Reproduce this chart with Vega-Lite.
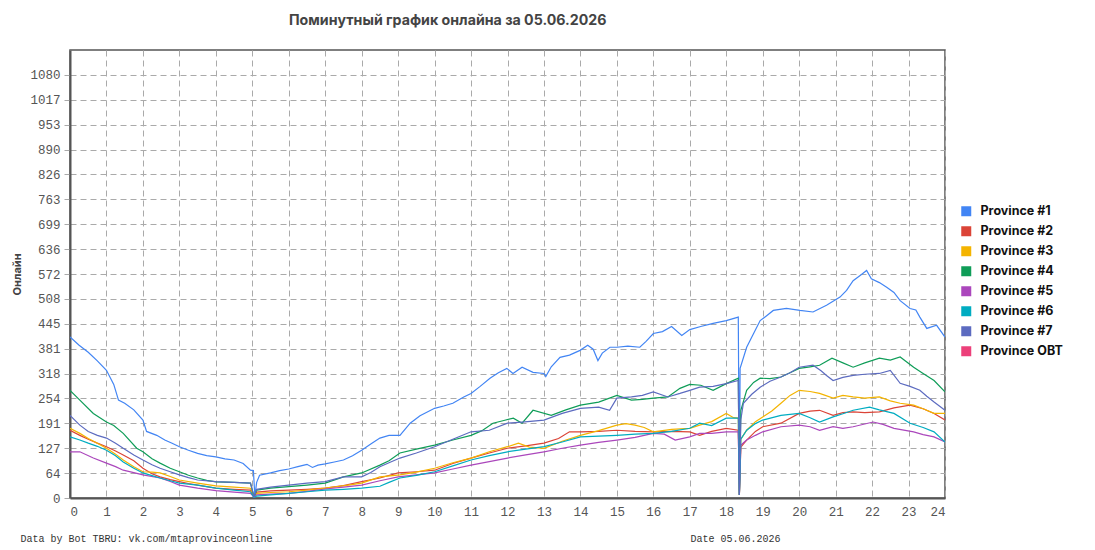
{
  "$schema": "https://vega.github.io/schema/vega-lite/v6.json",
  "autosize": "none",
  "width": 875,
  "height": 448,
  "padding": {"left": 70, "top": 50, "right": 150, "bottom": 52},
  "background": "white",
  "title": {
    "text": "Поминутный график онлайна за 05.06.2026",
    "font": "Inter",
    "fontSize": 14.2,
    "fontWeight": "bold",
    "color": "#444",
    "anchor": "start",
    "dx": 278,
    "offset": 22
  },
  "data": {
    "values": [
      {"s": "Province #1", "h": 0, "v": 411}, {"s": "Province #1", "h": 0.25, "v": 390}, {"s": "Province #1", "h": 0.5, "v": 372}, {"s": "Province #1", "h": 0.75, "v": 350},
      {"s": "Province #1", "h": 1, "v": 326}, {"s": "Province #1", "h": 1.2, "v": 290}, {"s": "Province #1", "h": 1.33, "v": 250}, {"s": "Province #1", "h": 1.5, "v": 242},
      {"s": "Province #1", "h": 1.75, "v": 225}, {"s": "Province #1", "h": 2, "v": 199}, {"s": "Province #1", "h": 2.1, "v": 170}, {"s": "Province #1", "h": 2.38, "v": 160},
      {"s": "Province #1", "h": 2.6, "v": 148}, {"s": "Province #1", "h": 2.8, "v": 140}, {"s": "Province #1", "h": 3, "v": 131}, {"s": "Province #1", "h": 3.25, "v": 122},
      {"s": "Province #1", "h": 3.5, "v": 114}, {"s": "Province #1", "h": 3.75, "v": 108}, {"s": "Province #1", "h": 4, "v": 105}, {"s": "Province #1", "h": 4.25, "v": 100},
      {"s": "Province #1", "h": 4.5, "v": 97}, {"s": "Province #1", "h": 4.75, "v": 88}, {"s": "Province #1", "h": 4.95, "v": 71}, {"s": "Province #1", "h": 5.03, "v": 70},
      {"s": "Province #1", "h": 5.07, "v": 5}, {"s": "Province #1", "h": 5.12, "v": 40}, {"s": "Province #1", "h": 5.2, "v": 58}, {"s": "Province #1", "h": 5.5, "v": 64},
      {"s": "Province #1", "h": 5.75, "v": 70}, {"s": "Province #1", "h": 6, "v": 74}, {"s": "Province #1", "h": 6.25, "v": 80}, {"s": "Province #1", "h": 6.5, "v": 86},
      {"s": "Province #1", "h": 6.65, "v": 78}, {"s": "Province #1", "h": 6.8, "v": 84}, {"s": "Province #1", "h": 7, "v": 87}, {"s": "Province #1", "h": 7.25, "v": 92},
      {"s": "Province #1", "h": 7.5, "v": 97}, {"s": "Province #1", "h": 7.75, "v": 108}, {"s": "Province #1", "h": 8, "v": 122}, {"s": "Province #1", "h": 8.25, "v": 138},
      {"s": "Province #1", "h": 8.5, "v": 153}, {"s": "Province #1", "h": 8.75, "v": 160}, {"s": "Province #1", "h": 9.05, "v": 160}, {"s": "Province #1", "h": 9.33, "v": 191},
      {"s": "Province #1", "h": 9.6, "v": 210}, {"s": "Province #1", "h": 10, "v": 229}, {"s": "Province #1", "h": 10.25, "v": 235}, {"s": "Province #1", "h": 10.5, "v": 242},
      {"s": "Province #1", "h": 10.8, "v": 258}, {"s": "Province #1", "h": 11, "v": 267}, {"s": "Province #1", "h": 11.25, "v": 285}, {"s": "Province #1", "h": 11.52, "v": 306},
      {"s": "Province #1", "h": 11.75, "v": 320}, {"s": "Province #1", "h": 11.98, "v": 331}, {"s": "Province #1", "h": 12.15, "v": 318}, {"s": "Province #1", "h": 12.4, "v": 334},
      {"s": "Province #1", "h": 12.7, "v": 321}, {"s": "Province #1", "h": 13, "v": 318}, {"s": "Province #1", "h": 13.05, "v": 310}, {"s": "Province #1", "h": 13.2, "v": 335},
      {"s": "Province #1", "h": 13.44, "v": 359}, {"s": "Province #1", "h": 13.7, "v": 365}, {"s": "Province #1", "h": 13.99, "v": 377}, {"s": "Province #1", "h": 14.2, "v": 390},
      {"s": "Province #1", "h": 14.35, "v": 380}, {"s": "Province #1", "h": 14.48, "v": 351}, {"s": "Province #1", "h": 14.6, "v": 370}, {"s": "Province #1", "h": 14.81, "v": 385},
      {"s": "Province #1", "h": 15, "v": 385}, {"s": "Province #1", "h": 15.3, "v": 388}, {"s": "Province #1", "h": 15.63, "v": 385}, {"s": "Province #1", "h": 15.8, "v": 400},
      {"s": "Province #1", "h": 16, "v": 420}, {"s": "Province #1", "h": 16.25, "v": 425}, {"s": "Province #1", "h": 16.5, "v": 438}, {"s": "Province #1", "h": 16.78, "v": 415},
      {"s": "Province #1", "h": 17, "v": 430}, {"s": "Province #1", "h": 17.3, "v": 438}, {"s": "Province #1", "h": 17.64, "v": 446}, {"s": "Province #1", "h": 18, "v": 453},
      {"s": "Province #1", "h": 18.33, "v": 462}, {"s": "Province #1", "h": 18.36, "v": 8}, {"s": "Province #1", "h": 18.38, "v": 331}, {"s": "Province #1", "h": 18.56, "v": 385},
      {"s": "Province #1", "h": 18.75, "v": 420}, {"s": "Province #1", "h": 18.93, "v": 453}, {"s": "Province #1", "h": 19.1, "v": 465}, {"s": "Province #1", "h": 19.29, "v": 479},
      {"s": "Province #1", "h": 19.65, "v": 484}, {"s": "Province #1", "h": 20.02, "v": 479}, {"s": "Province #1", "h": 20.38, "v": 475}, {"s": "Province #1", "h": 20.75, "v": 492},
      {"s": "Province #1", "h": 21.12, "v": 513}, {"s": "Province #1", "h": 21.3, "v": 530}, {"s": "Province #1", "h": 21.48, "v": 555}, {"s": "Province #1", "h": 21.7, "v": 570},
      {"s": "Province #1", "h": 21.85, "v": 581}, {"s": "Province #1", "h": 21.98, "v": 560}, {"s": "Province #1", "h": 22.2, "v": 550}, {"s": "Province #1", "h": 22.4, "v": 538},
      {"s": "Province #1", "h": 22.6, "v": 525}, {"s": "Province #1", "h": 22.77, "v": 504}, {"s": "Province #1", "h": 23.04, "v": 484}, {"s": "Province #1", "h": 23.2, "v": 480},
      {"s": "Province #1", "h": 23.31, "v": 462}, {"s": "Province #1", "h": 23.5, "v": 433}, {"s": "Province #1", "h": 23.77, "v": 441}, {"s": "Province #1", "h": 24, "v": 411},

      {"s": "Province #2", "h": 0, "v": 173}, {"s": "Province #2", "h": 0.27, "v": 160}, {"s": "Province #2", "h": 0.5, "v": 150}, {"s": "Province #2", "h": 0.75, "v": 140},
      {"s": "Province #2", "h": 1, "v": 131}, {"s": "Province #2", "h": 1.25, "v": 120}, {"s": "Province #2", "h": 1.46, "v": 110}, {"s": "Province #2", "h": 1.75, "v": 95},
      {"s": "Province #2", "h": 2, "v": 76}, {"s": "Province #2", "h": 2.25, "v": 62}, {"s": "Province #2", "h": 2.47, "v": 54}, {"s": "Province #2", "h": 2.75, "v": 47},
      {"s": "Province #2", "h": 3, "v": 42}, {"s": "Province #2", "h": 3.25, "v": 37}, {"s": "Province #2", "h": 3.5, "v": 33}, {"s": "Province #2", "h": 3.75, "v": 29},
      {"s": "Province #2", "h": 4, "v": 25}, {"s": "Province #2", "h": 4.5, "v": 22}, {"s": "Province #2", "h": 4.95, "v": 20}, {"s": "Province #2", "h": 5.05, "v": 3},
      {"s": "Province #2", "h": 5.12, "v": 15}, {"s": "Province #2", "h": 5.5, "v": 18}, {"s": "Province #2", "h": 6, "v": 20}, {"s": "Province #2", "h": 6.5, "v": 22},
      {"s": "Province #2", "h": 7, "v": 25}, {"s": "Province #2", "h": 7.5, "v": 32}, {"s": "Province #2", "h": 8, "v": 42}, {"s": "Province #2", "h": 8.5, "v": 51},
      {"s": "Province #2", "h": 9, "v": 64}, {"s": "Province #2", "h": 9.5, "v": 67}, {"s": "Province #2", "h": 10, "v": 71}, {"s": "Province #2", "h": 10.5, "v": 88},
      {"s": "Province #2", "h": 11, "v": 102}, {"s": "Province #2", "h": 11.5, "v": 115}, {"s": "Province #2", "h": 12, "v": 127}, {"s": "Province #2", "h": 12.5, "v": 133},
      {"s": "Province #2", "h": 13, "v": 140}, {"s": "Province #2", "h": 13.4, "v": 152}, {"s": "Province #2", "h": 13.7, "v": 169}, {"s": "Province #2", "h": 14, "v": 169},
      {"s": "Province #2", "h": 14.5, "v": 170}, {"s": "Province #2", "h": 15, "v": 173}, {"s": "Province #2", "h": 15.5, "v": 170}, {"s": "Province #2", "h": 16, "v": 169},
      {"s": "Province #2", "h": 16.5, "v": 170}, {"s": "Province #2", "h": 17, "v": 169}, {"s": "Province #2", "h": 17.27, "v": 160}, {"s": "Province #2", "h": 17.6, "v": 170},
      {"s": "Province #2", "h": 18, "v": 178}, {"s": "Province #2", "h": 18.33, "v": 173}, {"s": "Province #2", "h": 18.36, "v": 8}, {"s": "Province #2", "h": 18.4, "v": 130},
      {"s": "Province #2", "h": 18.56, "v": 148}, {"s": "Province #2", "h": 18.8, "v": 170}, {"s": "Province #2", "h": 19, "v": 182}, {"s": "Province #2", "h": 19.5, "v": 191},
      {"s": "Province #2", "h": 20, "v": 216}, {"s": "Province #2", "h": 20.3, "v": 222}, {"s": "Province #2", "h": 20.56, "v": 224}, {"s": "Province #2", "h": 20.93, "v": 211},
      {"s": "Province #2", "h": 21.2, "v": 218}, {"s": "Province #2", "h": 21.48, "v": 220}, {"s": "Province #2", "h": 21.8, "v": 218}, {"s": "Province #2", "h": 22.2, "v": 220},
      {"s": "Province #2", "h": 22.6, "v": 230}, {"s": "Province #2", "h": 23.04, "v": 237}, {"s": "Province #2", "h": 23.4, "v": 228}, {"s": "Province #2", "h": 23.7, "v": 216},
      {"s": "Province #2", "h": 24, "v": 199},

      {"s": "Province #3", "h": 0, "v": 178}, {"s": "Province #3", "h": 0.27, "v": 165}, {"s": "Province #3", "h": 0.5, "v": 152}, {"s": "Province #3", "h": 0.75, "v": 140},
      {"s": "Province #3", "h": 1, "v": 127}, {"s": "Province #3", "h": 1.25, "v": 112}, {"s": "Province #3", "h": 1.46, "v": 97}, {"s": "Province #3", "h": 1.75, "v": 80},
      {"s": "Province #3", "h": 2, "v": 67}, {"s": "Province #3", "h": 2.25, "v": 66}, {"s": "Province #3", "h": 2.47, "v": 64}, {"s": "Province #3", "h": 2.75, "v": 55},
      {"s": "Province #3", "h": 3, "v": 46}, {"s": "Province #3", "h": 3.5, "v": 38}, {"s": "Province #3", "h": 4, "v": 31}, {"s": "Province #3", "h": 4.5, "v": 28},
      {"s": "Province #3", "h": 4.95, "v": 25}, {"s": "Province #3", "h": 5.05, "v": 3}, {"s": "Province #3", "h": 5.12, "v": 12}, {"s": "Province #3", "h": 5.5, "v": 14},
      {"s": "Province #3", "h": 6, "v": 16}, {"s": "Province #3", "h": 6.5, "v": 20}, {"s": "Province #3", "h": 7, "v": 25}, {"s": "Province #3", "h": 7.5, "v": 31},
      {"s": "Province #3", "h": 8, "v": 38}, {"s": "Province #3", "h": 8.5, "v": 54}, {"s": "Province #3", "h": 9.05, "v": 59}, {"s": "Province #3", "h": 9.5, "v": 66},
      {"s": "Province #3", "h": 10, "v": 76}, {"s": "Province #3", "h": 10.5, "v": 90}, {"s": "Province #3", "h": 11, "v": 102}, {"s": "Province #3", "h": 11.5, "v": 118},
      {"s": "Province #3", "h": 12, "v": 131}, {"s": "Province #3", "h": 12.3, "v": 140}, {"s": "Province #3", "h": 12.6, "v": 130}, {"s": "Province #3", "h": 13, "v": 127},
      {"s": "Province #3", "h": 13.5, "v": 145}, {"s": "Province #3", "h": 14, "v": 160}, {"s": "Province #3", "h": 14.5, "v": 172}, {"s": "Province #3", "h": 15, "v": 186},
      {"s": "Province #3", "h": 15.25, "v": 190}, {"s": "Province #3", "h": 15.5, "v": 186}, {"s": "Province #3", "h": 15.75, "v": 180}, {"s": "Province #3", "h": 16, "v": 169},
      {"s": "Province #3", "h": 16.5, "v": 175}, {"s": "Province #3", "h": 17, "v": 178}, {"s": "Province #3", "h": 17.27, "v": 186}, {"s": "Province #3", "h": 17.6, "v": 195},
      {"s": "Province #3", "h": 18, "v": 216}, {"s": "Province #3", "h": 18.2, "v": 205}, {"s": "Province #3", "h": 18.33, "v": 204}, {"s": "Province #3", "h": 18.36, "v": 8},
      {"s": "Province #3", "h": 18.4, "v": 150}, {"s": "Province #3", "h": 18.56, "v": 173}, {"s": "Province #3", "h": 18.8, "v": 195}, {"s": "Province #3", "h": 19, "v": 207},
      {"s": "Province #3", "h": 19.25, "v": 222}, {"s": "Province #3", "h": 19.5, "v": 242}, {"s": "Province #3", "h": 19.75, "v": 262}, {"s": "Province #3", "h": 20, "v": 275},
      {"s": "Province #3", "h": 20.3, "v": 272}, {"s": "Province #3", "h": 20.56, "v": 267}, {"s": "Province #3", "h": 20.93, "v": 255}, {"s": "Province #3", "h": 21.2, "v": 262},
      {"s": "Province #3", "h": 21.48, "v": 258}, {"s": "Province #3", "h": 21.8, "v": 255}, {"s": "Province #3", "h": 22.2, "v": 258}, {"s": "Province #3", "h": 22.5, "v": 248},
      {"s": "Province #3", "h": 22.77, "v": 242}, {"s": "Province #3", "h": 23.14, "v": 237}, {"s": "Province #3", "h": 23.4, "v": 228}, {"s": "Province #3", "h": 23.7, "v": 216},
      {"s": "Province #3", "h": 24, "v": 216},

      {"s": "Province #4", "h": 0, "v": 275}, {"s": "Province #4", "h": 0.27, "v": 250}, {"s": "Province #4", "h": 0.64, "v": 216}, {"s": "Province #4", "h": 1, "v": 194},
      {"s": "Province #4", "h": 1.2, "v": 185}, {"s": "Province #4", "h": 1.46, "v": 165}, {"s": "Province #4", "h": 1.83, "v": 127}, {"s": "Province #4", "h": 2, "v": 118},
      {"s": "Province #4", "h": 2.25, "v": 100}, {"s": "Province #4", "h": 2.47, "v": 89}, {"s": "Province #4", "h": 2.75, "v": 76}, {"s": "Province #4", "h": 3, "v": 67},
      {"s": "Province #4", "h": 3.25, "v": 58}, {"s": "Province #4", "h": 3.5, "v": 51}, {"s": "Province #4", "h": 3.75, "v": 45}, {"s": "Province #4", "h": 4, "v": 41},
      {"s": "Province #4", "h": 4.5, "v": 40}, {"s": "Province #4", "h": 4.95, "v": 38}, {"s": "Province #4", "h": 5.05, "v": 3}, {"s": "Province #4", "h": 5.12, "v": 20},
      {"s": "Province #4", "h": 5.5, "v": 25}, {"s": "Province #4", "h": 6, "v": 29}, {"s": "Province #4", "h": 6.5, "v": 33}, {"s": "Province #4", "h": 7, "v": 38},
      {"s": "Province #4", "h": 7.5, "v": 54}, {"s": "Province #4", "h": 8, "v": 64}, {"s": "Province #4", "h": 8.5, "v": 84}, {"s": "Province #4", "h": 8.75, "v": 95},
      {"s": "Province #4", "h": 9.05, "v": 115}, {"s": "Province #4", "h": 9.5, "v": 125}, {"s": "Province #4", "h": 10, "v": 135}, {"s": "Province #4", "h": 10.5, "v": 148},
      {"s": "Province #4", "h": 11, "v": 160}, {"s": "Province #4", "h": 11.3, "v": 172}, {"s": "Province #4", "h": 11.6, "v": 191}, {"s": "Province #4", "h": 11.9, "v": 198},
      {"s": "Province #4", "h": 12.16, "v": 204}, {"s": "Province #4", "h": 12.4, "v": 191}, {"s": "Province #4", "h": 12.7, "v": 224}, {"s": "Province #4", "h": 13.2, "v": 211},
      {"s": "Province #4", "h": 13.6, "v": 225}, {"s": "Province #4", "h": 14, "v": 237}, {"s": "Province #4", "h": 14.5, "v": 245}, {"s": "Province #4", "h": 15, "v": 262},
      {"s": "Province #4", "h": 15.4, "v": 250}, {"s": "Province #4", "h": 15.7, "v": 252}, {"s": "Province #4", "h": 16, "v": 255}, {"s": "Province #4", "h": 16.4, "v": 258},
      {"s": "Province #4", "h": 16.73, "v": 280}, {"s": "Province #4", "h": 17, "v": 290}, {"s": "Province #4", "h": 17.3, "v": 288}, {"s": "Province #4", "h": 17.64, "v": 275},
      {"s": "Province #4", "h": 18, "v": 292}, {"s": "Province #4", "h": 18.33, "v": 306}, {"s": "Province #4", "h": 18.36, "v": 8}, {"s": "Province #4", "h": 18.4, "v": 224},
      {"s": "Province #4", "h": 18.56, "v": 275}, {"s": "Province #4", "h": 18.75, "v": 295}, {"s": "Province #4", "h": 18.93, "v": 306}, {"s": "Province #4", "h": 19.2, "v": 305},
      {"s": "Province #4", "h": 19.5, "v": 309}, {"s": "Province #4", "h": 19.75, "v": 320}, {"s": "Province #4", "h": 20, "v": 331}, {"s": "Province #4", "h": 20.3, "v": 335},
      {"s": "Province #4", "h": 20.56, "v": 339}, {"s": "Province #4", "h": 20.9, "v": 357}, {"s": "Province #4", "h": 21.2, "v": 345}, {"s": "Province #4", "h": 21.48, "v": 334},
      {"s": "Province #4", "h": 21.8, "v": 345}, {"s": "Province #4", "h": 22.2, "v": 357}, {"s": "Province #4", "h": 22.5, "v": 352}, {"s": "Province #4", "h": 22.77, "v": 360},
      {"s": "Province #4", "h": 23.14, "v": 334}, {"s": "Province #4", "h": 23.4, "v": 318}, {"s": "Province #4", "h": 23.7, "v": 300}, {"s": "Province #4", "h": 24, "v": 271},

      {"s": "Province #5", "h": 0, "v": 118}, {"s": "Province #5", "h": 0.27, "v": 118}, {"s": "Province #5", "h": 0.64, "v": 102}, {"s": "Province #5", "h": 1, "v": 89},
      {"s": "Province #5", "h": 1.25, "v": 80}, {"s": "Province #5", "h": 1.46, "v": 71}, {"s": "Province #5", "h": 1.75, "v": 65}, {"s": "Province #5", "h": 2, "v": 59},
      {"s": "Province #5", "h": 2.47, "v": 51}, {"s": "Province #5", "h": 2.75, "v": 42}, {"s": "Province #5", "h": 3, "v": 33}, {"s": "Province #5", "h": 3.5, "v": 25},
      {"s": "Province #5", "h": 4, "v": 19}, {"s": "Province #5", "h": 4.5, "v": 15}, {"s": "Province #5", "h": 4.95, "v": 12}, {"s": "Province #5", "h": 5.05, "v": 2},
      {"s": "Province #5", "h": 5.12, "v": 8}, {"s": "Province #5", "h": 5.5, "v": 10}, {"s": "Province #5", "h": 6, "v": 12}, {"s": "Province #5", "h": 6.5, "v": 17},
      {"s": "Province #5", "h": 7, "v": 23}, {"s": "Province #5", "h": 7.5, "v": 28}, {"s": "Province #5", "h": 8, "v": 33}, {"s": "Province #5", "h": 8.5, "v": 44},
      {"s": "Province #5", "h": 9, "v": 54}, {"s": "Province #5", "h": 9.5, "v": 59}, {"s": "Province #5", "h": 10, "v": 64}, {"s": "Province #5", "h": 10.5, "v": 74},
      {"s": "Province #5", "h": 11, "v": 84}, {"s": "Province #5", "h": 11.5, "v": 93}, {"s": "Province #5", "h": 12, "v": 102}, {"s": "Province #5", "h": 12.5, "v": 110},
      {"s": "Province #5", "h": 13, "v": 118}, {"s": "Province #5", "h": 13.5, "v": 127}, {"s": "Province #5", "h": 14, "v": 135}, {"s": "Province #5", "h": 14.5, "v": 142},
      {"s": "Province #5", "h": 15, "v": 148}, {"s": "Province #5", "h": 15.5, "v": 155}, {"s": "Province #5", "h": 16, "v": 165}, {"s": "Province #5", "h": 16.3, "v": 163},
      {"s": "Province #5", "h": 16.6, "v": 148}, {"s": "Province #5", "h": 17, "v": 156}, {"s": "Province #5", "h": 17.27, "v": 165}, {"s": "Province #5", "h": 17.6, "v": 165},
      {"s": "Province #5", "h": 18, "v": 169}, {"s": "Province #5", "h": 18.33, "v": 169}, {"s": "Province #5", "h": 18.36, "v": 8}, {"s": "Province #5", "h": 18.4, "v": 135},
      {"s": "Province #5", "h": 18.56, "v": 148}, {"s": "Province #5", "h": 18.8, "v": 160}, {"s": "Province #5", "h": 19, "v": 169}, {"s": "Province #5", "h": 19.5, "v": 182},
      {"s": "Province #5", "h": 20, "v": 186}, {"s": "Province #5", "h": 20.3, "v": 182}, {"s": "Province #5", "h": 20.56, "v": 173}, {"s": "Province #5", "h": 20.93, "v": 182},
      {"s": "Province #5", "h": 21.2, "v": 178}, {"s": "Province #5", "h": 21.48, "v": 182}, {"s": "Province #5", "h": 22.03, "v": 194}, {"s": "Province #5", "h": 22.3, "v": 188},
      {"s": "Province #5", "h": 22.6, "v": 178}, {"s": "Province #5", "h": 23.14, "v": 169}, {"s": "Province #5", "h": 23.4, "v": 162}, {"s": "Province #5", "h": 23.7, "v": 156},
      {"s": "Province #5", "h": 24, "v": 143},

      {"s": "Province #6", "h": 0, "v": 156}, {"s": "Province #6", "h": 0.27, "v": 148}, {"s": "Province #6", "h": 0.5, "v": 140}, {"s": "Province #6", "h": 0.75, "v": 132},
      {"s": "Province #6", "h": 1, "v": 122}, {"s": "Province #6", "h": 1.25, "v": 108}, {"s": "Province #6", "h": 1.46, "v": 92}, {"s": "Province #6", "h": 1.75, "v": 76},
      {"s": "Province #6", "h": 2, "v": 64}, {"s": "Province #6", "h": 2.25, "v": 57}, {"s": "Province #6", "h": 2.47, "v": 51}, {"s": "Province #6", "h": 2.75, "v": 44},
      {"s": "Province #6", "h": 3, "v": 38}, {"s": "Province #6", "h": 3.5, "v": 33}, {"s": "Province #6", "h": 4, "v": 25}, {"s": "Province #6", "h": 4.5, "v": 20},
      {"s": "Province #6", "h": 4.95, "v": 16}, {"s": "Province #6", "h": 5.05, "v": 1}, {"s": "Province #6", "h": 5.12, "v": 5}, {"s": "Province #6", "h": 5.5, "v": 8},
      {"s": "Province #6", "h": 6, "v": 12}, {"s": "Province #6", "h": 6.5, "v": 16}, {"s": "Province #6", "h": 7, "v": 20}, {"s": "Province #6", "h": 7.5, "v": 22},
      {"s": "Province #6", "h": 8, "v": 25}, {"s": "Province #6", "h": 8.5, "v": 30}, {"s": "Province #6", "h": 8.75, "v": 40}, {"s": "Province #6", "h": 9.05, "v": 51},
      {"s": "Province #6", "h": 9.5, "v": 58}, {"s": "Province #6", "h": 10, "v": 67}, {"s": "Province #6", "h": 10.5, "v": 82}, {"s": "Province #6", "h": 11, "v": 97},
      {"s": "Province #6", "h": 11.5, "v": 108}, {"s": "Province #6", "h": 12, "v": 118}, {"s": "Province #6", "h": 12.5, "v": 125}, {"s": "Province #6", "h": 13, "v": 131},
      {"s": "Province #6", "h": 13.5, "v": 143}, {"s": "Province #6", "h": 14, "v": 156}, {"s": "Province #6", "h": 14.5, "v": 158}, {"s": "Province #6", "h": 15, "v": 160},
      {"s": "Province #6", "h": 15.5, "v": 163}, {"s": "Province #6", "h": 16, "v": 165}, {"s": "Province #6", "h": 16.5, "v": 170}, {"s": "Province #6", "h": 17, "v": 178},
      {"s": "Province #6", "h": 17.27, "v": 191}, {"s": "Province #6", "h": 17.6, "v": 185}, {"s": "Province #6", "h": 18, "v": 204}, {"s": "Province #6", "h": 18.33, "v": 204},
      {"s": "Province #6", "h": 18.36, "v": 8}, {"s": "Province #6", "h": 18.4, "v": 150}, {"s": "Province #6", "h": 18.56, "v": 173}, {"s": "Province #6", "h": 18.8, "v": 190},
      {"s": "Province #6", "h": 19, "v": 199}, {"s": "Province #6", "h": 19.5, "v": 211}, {"s": "Province #6", "h": 20, "v": 216}, {"s": "Province #6", "h": 20.3, "v": 205},
      {"s": "Province #6", "h": 20.56, "v": 194}, {"s": "Province #6", "h": 20.93, "v": 207}, {"s": "Province #6", "h": 21.2, "v": 215}, {"s": "Province #6", "h": 21.48, "v": 224},
      {"s": "Province #6", "h": 21.93, "v": 232}, {"s": "Province #6", "h": 22.2, "v": 225}, {"s": "Province #6", "h": 22.6, "v": 216}, {"s": "Province #6", "h": 23.04, "v": 191},
      {"s": "Province #6", "h": 23.4, "v": 180}, {"s": "Province #6", "h": 23.7, "v": 169}, {"s": "Province #6", "h": 24, "v": 143},

      {"s": "Province #7", "h": 0, "v": 211}, {"s": "Province #7", "h": 0.27, "v": 186}, {"s": "Province #7", "h": 0.5, "v": 170}, {"s": "Province #7", "h": 0.75, "v": 160},
      {"s": "Province #7", "h": 1, "v": 153}, {"s": "Province #7", "h": 1.25, "v": 140}, {"s": "Province #7", "h": 1.46, "v": 127}, {"s": "Province #7", "h": 1.75, "v": 110},
      {"s": "Province #7", "h": 2, "v": 97}, {"s": "Province #7", "h": 2.25, "v": 85}, {"s": "Province #7", "h": 2.47, "v": 76}, {"s": "Province #7", "h": 2.75, "v": 67},
      {"s": "Province #7", "h": 3, "v": 59}, {"s": "Province #7", "h": 3.25, "v": 52}, {"s": "Province #7", "h": 3.5, "v": 46}, {"s": "Province #7", "h": 4, "v": 42},
      {"s": "Province #7", "h": 4.5, "v": 40}, {"s": "Province #7", "h": 4.95, "v": 38}, {"s": "Province #7", "h": 5.05, "v": 3}, {"s": "Province #7", "h": 5.12, "v": 22},
      {"s": "Province #7", "h": 5.5, "v": 28}, {"s": "Province #7", "h": 6, "v": 33}, {"s": "Province #7", "h": 6.5, "v": 38}, {"s": "Province #7", "h": 7, "v": 42},
      {"s": "Province #7", "h": 7.5, "v": 54}, {"s": "Province #7", "h": 8, "v": 54}, {"s": "Province #7", "h": 8.25, "v": 65}, {"s": "Province #7", "h": 8.5, "v": 80},
      {"s": "Province #7", "h": 8.75, "v": 90}, {"s": "Province #7", "h": 9.05, "v": 102}, {"s": "Province #7", "h": 9.5, "v": 115}, {"s": "Province #7", "h": 10, "v": 131},
      {"s": "Province #7", "h": 10.5, "v": 150}, {"s": "Province #7", "h": 11, "v": 169}, {"s": "Province #7", "h": 11.5, "v": 173}, {"s": "Province #7", "h": 12, "v": 191},
      {"s": "Province #7", "h": 12.4, "v": 194}, {"s": "Province #7", "h": 13, "v": 199}, {"s": "Province #7", "h": 13.5, "v": 216}, {"s": "Province #7", "h": 14, "v": 229},
      {"s": "Province #7", "h": 14.5, "v": 232}, {"s": "Province #7", "h": 14.8, "v": 224}, {"s": "Province #7", "h": 15, "v": 255}, {"s": "Province #7", "h": 15.4, "v": 258},
      {"s": "Province #7", "h": 15.7, "v": 262}, {"s": "Province #7", "h": 16, "v": 271}, {"s": "Province #7", "h": 16.4, "v": 258}, {"s": "Province #7", "h": 16.73, "v": 267},
      {"s": "Province #7", "h": 17, "v": 275}, {"s": "Province #7", "h": 17.27, "v": 283}, {"s": "Province #7", "h": 17.64, "v": 285}, {"s": "Province #7", "h": 18, "v": 292},
      {"s": "Province #7", "h": 18.33, "v": 300}, {"s": "Province #7", "h": 18.36, "v": 8}, {"s": "Province #7", "h": 18.4, "v": 200}, {"s": "Province #7", "h": 18.47, "v": 242},
      {"s": "Province #7", "h": 18.7, "v": 265}, {"s": "Province #7", "h": 18.93, "v": 283}, {"s": "Province #7", "h": 19.2, "v": 298}, {"s": "Province #7", "h": 19.5, "v": 309},
      {"s": "Province #7", "h": 19.75, "v": 320}, {"s": "Province #7", "h": 20, "v": 334}, {"s": "Province #7", "h": 20.38, "v": 339}, {"s": "Province #7", "h": 20.6, "v": 325},
      {"s": "Province #7", "h": 20.75, "v": 313}, {"s": "Province #7", "h": 20.93, "v": 300}, {"s": "Province #7", "h": 21.2, "v": 308}, {"s": "Province #7", "h": 21.48, "v": 313},
      {"s": "Province #7", "h": 21.8, "v": 316}, {"s": "Province #7", "h": 22.2, "v": 318}, {"s": "Province #7", "h": 22.5, "v": 326}, {"s": "Province #7", "h": 22.77, "v": 293},
      {"s": "Province #7", "h": 23.04, "v": 285}, {"s": "Province #7", "h": 23.31, "v": 275}, {"s": "Province #7", "h": 23.5, "v": 260}, {"s": "Province #7", "h": 23.7, "v": 245},
      {"s": "Province #7", "h": 24, "v": 224}
    ]
  },
  "layer": [
    {
      "mark": {"type": "line", "strokeWidth": 1.2, "clip": true},
      "encoding": {
        "x": {
          "field": "h",
          "type": "quantitative",
          "scale": {"domain": [0, 24], "nice": false},
          "axis": {
            "orient": "bottom",
            "values": [0, 1, 2, 3, 4, 5, 6, 7, 8, 9, 10, 11, 12, 13, 14, 15, 16, 17, 18, 19, 20, 21, 22, 23, 24],
            "format": "d",
            "ticks": false,
            "labelPadding": 7,
            "title": "Date 05.06.2026",
            "titleFont": "Liberation Mono",
            "titleFontSize": 10,
            "titleFontWeight": "normal",
            "titleColor": "#333",
            "titleAlign": "left",
            "titleBaseline": "alphabetic",
            "titleX": 620,
            "titleY": 43
          }
        },
        "y": {
          "field": "v",
          "type": "quantitative",
          "scale": {"domain": [0, 1144], "nice": false},
          "axis": {
            "values": [0, 63.556, 127.111, 190.667, 254.222, 317.778, 381.333, 444.889, 508.444, 572, 635.556, 699.111, 762.667, 826.222, 889.778, 953.333, 1016.889, 1080.444],
            "format": ".0f",
            "tickSize": 8,
            "tickColor": "#aaa",
            "tickDash": [6, 4],
            "labelPadding": 2,
            "title": "Онлайн",
            "titleFont": "Inter",
            "titleFontSize": 11,
            "titleFontWeight": "bold",
            "titleColor": "#444",
            "titleAngle": 270,
            "titleAlign": "center",
            "titleBaseline": "middle",
            "titleX": -53,
            "titleY": 224
          }
        },
        "color": {
          "field": "s",
          "type": "nominal",
          "scale": {
            "domain": ["Province #1", "Province #2", "Province #3", "Province #4", "Province #5", "Province #6", "Province #7", "Province OBT"],
            "range": ["#4285f4", "#db4437", "#f4b400", "#0f9d58", "#ab47bc", "#00acc1", "#5c6bc0", "#ec407a"]
          },
          "legend": {
            "title": null,
            "orient": "none",
            "legendX": 890,
            "legendY": 155,
            "symbolType": "square",
            "symbolSize": 100,
            "symbolStrokeWidth": 0,
            "symbolOpacity": 1,
            "labelFont": "Inter",
            "labelFontSize": 12.5,
            "labelFontWeight": "bold",
            "labelColor": "#111",
            "labelOffset": 8,
            "rowPadding": 7,
            "encode": {
              "symbols": {
                "update": {
                  "fill": {"scale": "color", "field": "value"},
                  "fillOpacity": {"value": 1}
                }
              }
            }
          }
        }
      }
    },
    {
      "mark": {"type": "rule", "opacity": 0},
      "encoding": {
        "x": {
          "datum": 0,
          "type": "quantitative",
          "axis": {
            "orient": "bottom",
            "labels": false,
            "ticks": false,
            "domain": false,
            "grid": false,
            "title": "Data by Bot TBRU: vk.com/mtaprovinceonline",
            "titleFont": "Liberation Mono",
            "titleFontSize": 10,
            "titleFontWeight": "normal",
            "titleColor": "#333",
            "titleAlign": "left",
            "titleBaseline": "alphabetic",
            "titleX": -50,
            "titleY": 43
          }
        }
      }
    }
  ],
  "resolve": {"axis": {"x": "independent"}},
  "config": {
    "view": {"stroke": "#555", "strokeWidth": 1.5},
    "axis": {
      "labelFont": "Liberation Mono",
      "labelFontSize": 12.5,
      "labelColor": "#555",
      "grid": true,
      "gridColor": "#aaa",
      "gridDash": [6, 4],
      "gridWidth": 1,
      "domainColor": "#555",
      "domainWidth": 2
    }
  }
}
